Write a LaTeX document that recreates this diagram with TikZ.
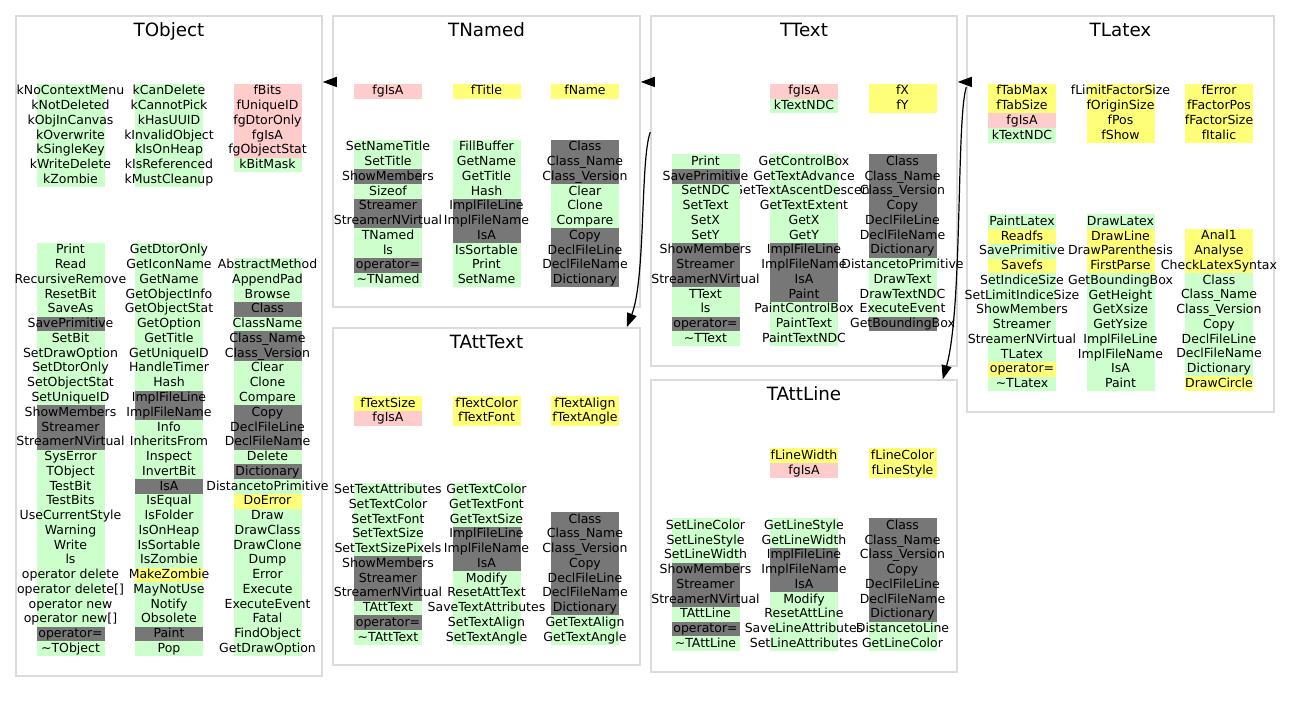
\documentclass[tikz,border=0pt]{standalone}
\usepackage{fontspec}
\setmainfont{DejaVu Sans}
\usetikzlibrary{arrows.meta, positioning}

\definecolor{pub}{RGB}{204,255,204}
\definecolor{prot}{RGB}{255,255,119}
\definecolor{priv}{RGB}{255,204,204}
\definecolor{ovr}{RGB}{119,119,119}

\tikzset{
  cluster/.style={rectangle, draw=black!14, line width=1.5pt, inner sep=0pt},
  clstitle/.style={anchor=base, inner sep=0pt, font=\fontsize{18.3}{22}\selectfont},
  member/.style={anchor=base, inner sep=0pt, font=\fontsize{12.5}{14.75}\selectfont},
  inh/.style={-{Triangle[length=14pt,width=10pt]}, line width=1.2pt},
}

\newcommand{\rowh}{14.75}
% #1 name, #2 column centre, #3 top of first row, #4 colour/label list
\newcommand{\memberlist}[4]{%
  \foreach \c/\m [count=\i from 0] in {#4} {
    \fill[\c] ({#2-34},{#3+\i*\rowh}) rectangle ++(68,\rowh);
    \node[member] (#1-\i) at ({#2},{#3+\i*\rowh+11}) {\m};
  }%
}

\begin{document}
\begin{tikzpicture}[x=1pt, y=-1pt]
  \fill[white] (0,0) rectangle (1291,703);
  \useasboundingbox (0,0) rectangle (1291,703);

  % class frames
  \node[cluster, minimum width=306pt, minimum height=660pt] (tobject)  at (169,346) {};
  \node[cluster, minimum width=307pt, minimum height=291pt] (tnamed)   at (486.5,161.5) {};
  \node[cluster, minimum width=307pt, minimum height=337pt] (tatttext) at (486.5,496.5) {};
  \node[cluster, minimum width=306pt, minimum height=350pt] (ttext)    at (804,191) {};
  \node[cluster, minimum width=306pt, minimum height=292pt] (tattline) at (804,526) {};
  \node[cluster, minimum width=307pt, minimum height=396pt] (tlatex)   at (1120.5,214) {};

  \foreach \n/\t in {tobject/TObject, tnamed/TNamed, tatttext/TAttText,
                     ttext/TText, tattline/TAttLine, tlatex/TLatex}
    \node[clstitle] (\n-title) at ([yshift=-21pt]\n.north) {\t};

  % TObject
  \memberlist{tobject-k1}{70.5}{84}{pub/kNoContextMenu, pub/kNotDeleted, pub/kObjInCanvas,
    pub/kOverwrite, pub/kSingleKey, pub/kWriteDelete, pub/kZombie}
  \memberlist{tobject-k2}{169}{84}{pub/kCanDelete, pub/kCannotPick, pub/kHasUUID,
    pub/kInvalidObject, pub/kIsOnHeap, pub/kIsReferenced, pub/kMustCleanup}
  \memberlist{tobject-d}{267.5}{84}{priv/fBits, priv/fUniqueID, priv/fgDtorOnly, priv/fgIsA,
    priv/fgObjectStat, pub/kBitMask}
  \memberlist{tobject-m2}{169}{243}{pub/GetDtorOnly, pub/GetIconName, pub/GetName,
    pub/GetObjectInfo, pub/GetObjectStat, pub/GetOption, pub/GetTitle, pub/GetUniqueID,
    pub/HandleTimer, pub/Hash, ovr/ImplFileLine, ovr/ImplFileName, pub/Info,
    pub/InheritsFrom, pub/Inspect, pub/InvertBit, ovr/IsA, pub/IsEqual, pub/IsFolder,
    pub/IsOnHeap, pub/IsSortable, pub/IsZombie, prot/MakeZombie, pub/MayNotUse,
    pub/Notify, pub/Obsolete, ovr/Paint, pub/Pop}
  \memberlist{tobject-m1}{70.5}{243}{pub/Print, pub/Read, pub/RecursiveRemove, pub/ResetBit,
    pub/SaveAs, ovr/SavePrimitive, pub/SetBit, pub/SetDrawOption, pub/SetDtorOnly,
    pub/SetObjectStat, pub/SetUniqueID, ovr/ShowMembers, ovr/Streamer,
    ovr/StreamerNVirtual, pub/SysError, pub/TObject, pub/TestBit, pub/TestBits,
    pub/UseCurrentStyle, pub/Warning, pub/Write, pub/ls, pub/operator delete,
    pub/operator delete[], pub/operator new, pub/operator new[], ovr/operator=,
    pub/{\textasciitilde}TObject}
  \memberlist{tobject-m3}{267.5}{257.75}{pub/AbstractMethod, pub/AppendPad, pub/Browse,
    ovr/Class, pub/ClassName, ovr/Class\_Name, ovr/Class\_Version, pub/Clear, pub/Clone,
    pub/Compare, ovr/Copy, ovr/DeclFileLine, ovr/DeclFileName, pub/Delete,
    ovr/Dictionary, pub/DistancetoPrimitive, prot/DoError, pub/Draw, pub/DrawClass,
    pub/DrawClone, pub/Dump, pub/Error, pub/Execute, pub/ExecuteEvent, pub/Fatal,
    pub/FindObject, pub/GetDrawOption}

  % TNamed
  \memberlist{tnamed-d1}{388}{84}{priv/fgIsA}
  \memberlist{tnamed-d2}{486.5}{84}{prot/fTitle}
  \memberlist{tnamed-d3}{585}{84}{prot/fName}
  \memberlist{tnamed-m2}{486.5}{140}{pub/FillBuffer, pub/GetName, pub/GetTitle, pub/Hash,
    ovr/ImplFileLine, ovr/ImplFileName, ovr/IsA, pub/IsSortable, pub/Print, pub/SetName}
  \memberlist{tnamed-m1}{388}{140}{pub/SetNameTitle, pub/SetTitle, ovr/ShowMembers,
    pub/Sizeof, ovr/Streamer, ovr/StreamerNVirtual, pub/TNamed, pub/ls, ovr/operator=,
    pub/{\textasciitilde}TNamed}
  \memberlist{tnamed-m3}{585}{140}{ovr/Class, ovr/Class\_Name, ovr/Class\_Version,
    pub/Clear, pub/Clone, pub/Compare, ovr/Copy, ovr/DeclFileLine, ovr/DeclFileName,
    ovr/Dictionary}

  % TAttText
  \memberlist{tatttext-d1}{388}{396}{prot/fTextSize, priv/fgIsA}
  \memberlist{tatttext-d2}{486.5}{396}{prot/fTextColor, prot/fTextFont}
  \memberlist{tatttext-d3}{585}{396}{prot/fTextAlign, prot/fTextAngle}
  \memberlist{tatttext-m2}{486.5}{482.5}{pub/GetTextColor, pub/GetTextFont, pub/GetTextSize,
    ovr/ImplFileLine, ovr/ImplFileName, ovr/IsA, pub/Modify, pub/ResetAttText,
    pub/SaveTextAttributes, pub/SetTextAlign, pub/SetTextAngle}
  \memberlist{tatttext-m1}{388}{482.5}{pub/SetTextAttributes, pub/SetTextColor,
    pub/SetTextFont, pub/SetTextSize, pub/SetTextSizePixels, ovr/ShowMembers,
    ovr/Streamer, ovr/StreamerNVirtual, pub/TAttText, ovr/operator=,
    pub/{\textasciitilde}TAttText}
  \memberlist{tatttext-m3}{585}{512}{ovr/Class, ovr/Class\_Name, ovr/Class\_Version,
    ovr/Copy, ovr/DeclFileLine, ovr/DeclFileName, ovr/Dictionary, pub/GetTextAlign,
    pub/GetTextAngle}

  % TText
  \memberlist{ttext-d2}{804}{84}{priv/fgIsA, pub/kTextNDC}
  \memberlist{ttext-d3}{902.5}{84}{prot/fX, prot/fY}
  \memberlist{ttext-m2}{804}{154.5}{pub/GetControlBox, pub/GetTextAdvance,
    pub/GetTextAscentDescent, pub/GetTextExtent, pub/GetX, pub/GetY, ovr/ImplFileLine,
    ovr/ImplFileName, ovr/IsA, ovr/Paint, pub/PaintControlBox, pub/PaintText,
    pub/PaintTextNDC}
  \memberlist{ttext-m1}{705.5}{154.5}{pub/Print, ovr/SavePrimitive, pub/SetNDC, pub/SetText,
    pub/SetX, pub/SetY, ovr/ShowMembers, ovr/Streamer, ovr/StreamerNVirtual, pub/TText,
    pub/ls, ovr/operator=, pub/{\textasciitilde}TText}
  \memberlist{ttext-m3}{902.5}{154.5}{ovr/Class, ovr/Class\_Name, ovr/Class\_Version,
    ovr/Copy, ovr/DeclFileLine, ovr/DeclFileName, ovr/Dictionary,
    pub/DistancetoPrimitive, pub/DrawText, pub/DrawTextNDC, pub/ExecuteEvent,
    ovr/GetBoundingBox}

  % TAttLine
  \memberlist{tattline-d2}{804}{448.3}{prot/fLineWidth, priv/fgIsA}
  \memberlist{tattline-d3}{902.5}{448.3}{prot/fLineColor, prot/fLineStyle}
  \memberlist{tattline-m2}{804}{518.3}{pub/GetLineStyle, pub/GetLineWidth, ovr/ImplFileLine,
    ovr/ImplFileName, ovr/IsA, pub/Modify, pub/ResetAttLine, pub/SaveLineAttributes,
    pub/SetLineAttributes}
  \memberlist{tattline-m1}{705.5}{518.3}{pub/SetLineColor, pub/SetLineStyle,
    pub/SetLineWidth, ovr/ShowMembers, ovr/Streamer, ovr/StreamerNVirtual, pub/TAttLine,
    ovr/operator=, pub/{\textasciitilde}TAttLine}
  \memberlist{tattline-m3}{902.5}{518.3}{ovr/Class, ovr/Class\_Name, ovr/Class\_Version,
    ovr/Copy, ovr/DeclFileLine, ovr/DeclFileName, ovr/Dictionary, pub/DistancetoLine,
    pub/GetLineColor}

  % TLatex
  \memberlist{tlatex-d1}{1022}{84}{prot/fTabMax, prot/fTabSize, priv/fgIsA, pub/kTextNDC}
  \memberlist{tlatex-d2}{1120.5}{84}{prot/fLimitFactorSize, prot/fOriginSize, prot/fPos,
    prot/fShow}
  \memberlist{tlatex-d3}{1219}{84}{prot/fError, prot/fFactorPos, prot/fFactorSize,
    prot/fItalic}
  \memberlist{tlatex-m2}{1120.5}{214.3}{pub/DrawLatex, prot/DrawLine, prot/DrawParenthesis,
    prot/FirstParse, pub/GetBoundingBox, pub/GetHeight, pub/GetXsize, pub/GetYsize,
    pub/ImplFileLine, pub/ImplFileName, pub/IsA, pub/Paint}
  \memberlist{tlatex-m1}{1022}{214.3}{pub/PaintLatex, prot/Readfs, pub/SavePrimitive,
    prot/Savefs, pub/SetIndiceSize, pub/SetLimitIndiceSize, pub/ShowMembers,
    pub/Streamer, pub/StreamerNVirtual, pub/TLatex, prot/operator=,
    pub/{\textasciitilde}TLatex}
  \memberlist{tlatex-m3}{1219}{229}{prot/Anal1, prot/Analyse, prot/CheckLatexSyntax,
    pub/Class, pub/Class\_Name, pub/Class\_Version, pub/Copy, pub/DeclFileLine,
    pub/DeclFileName, pub/Dictionary, prot/DrawCircle}

  % inheritance
  \draw[inh] ([yshift=-66.7pt]tnamed.north west) -- ([yshift=-66.7pt]tobject.north east);
  \draw[inh] ([yshift=-66.7pt]ttext.north west) -- ([yshift=-66.7pt]tnamed.north east);
  \draw[inh] ([yshift=-66.7pt]tlatex.north west) -- ([yshift=-66.7pt]ttext.north east);
  \draw[inh] ([yshift=-117pt]ttext.north west)
    .. controls +(-10,27) and +(19,-48) .. ([xshift=-14pt]tatttext.north east);
  \draw[inh] ([yshift=-72pt]tlatex.north west)
    .. controls +(-10,32) and +(20,-70) .. ([xshift=-15pt]tattline.north east);
\end{tikzpicture}
\end{document}
